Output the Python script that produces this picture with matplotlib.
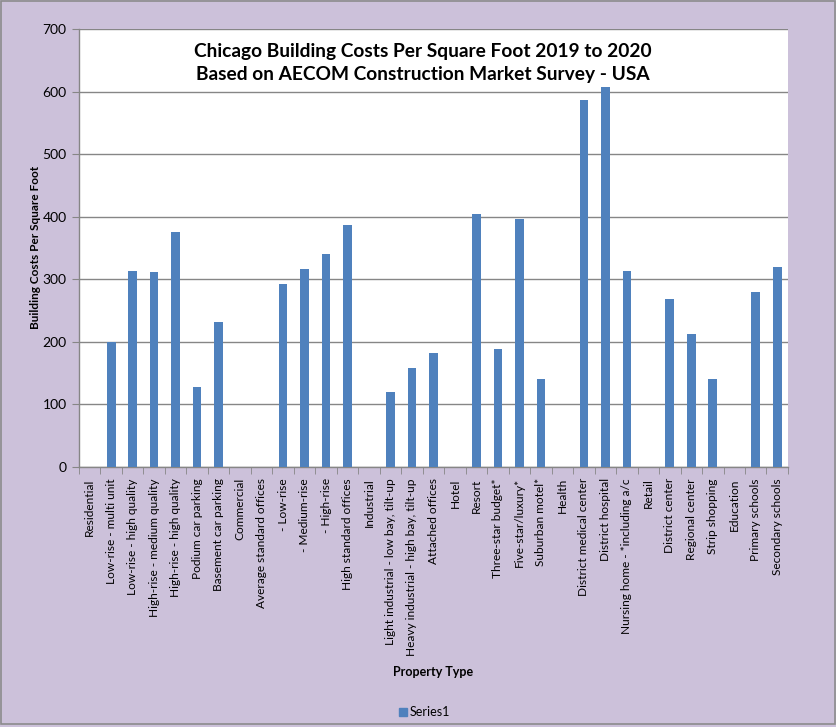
import matplotlib
matplotlib.use("Agg")
import matplotlib.pyplot as plt
from matplotlib.patches import Rectangle, Patch
import numpy as np

categories = [
    "Residential", "Low-rise - multi unit", "Low-rise - high quality",
    "High-rise - medium quality", "High-rise - high quality", "Podium car parking",
    "Basement car parking", "Commercial", "Average standard offices",
    " - Low-rise", " - Medium-rise", " - High-rise", "High standard offices",
    "Industrial", "Light industrial - low bay, tilt-up",
    "Heavy industrial - high bay, tilt-up", "Attached offices", "Hotel", "Resort",
    "Three-star budget*", "Five-star/luxury*", "Suburban motel*", "Health",
    "District medical center", "District hospital", "Nursing home - *including a/c",
    "Retail", "District center", "Regional center", "Strip shopping", "Education",
    "Primary schools", "Secondary schools",
]
values = [
    0, 200, 314, 311, 375, 128, 231, 0, 0, 293, 317, 341, 386, 0, 120, 159, 183,
    0, 405, 189, 397, 141, 0, 587, 608, 314, 0, 269, 213, 140, 0, 280, 320,
]
yticks = [0, 100, 200, 300, 400, 500, 600, 700]
title = "Chicago Building Costs Per Square Foot 2019 to 2020\nBased on AECOM Construction Market Survey - USA"
ylabel = "Building Costs Per Square Foot"
xlabel = "Property Type"
series_name = "Series1"

plt.rcParams['font.family'] = ['Lato', 'DejaVu Sans']
bg = "#CCC1DA"
bar_color = "#4F81BD"
grid_color = "#868686"

fig = plt.figure(figsize=(8.37, 7.27), dpi=100, facecolor=bg)
fig.patches.append(Rectangle((0.0015, 0.004), 0.996, 0.994, transform=fig.transFigure,
                             fill=False, edgecolor="#8c8c8c", lw=1.2))
ax = fig.add_axes([0.0944, 0.3576, 0.847, 0.6025])
ax.set_facecolor("white")

x = np.arange(len(categories))
ax.bar(x, values, width=0.4, color=bar_color, zorder=3)
ax.set_xlim(-0.5, len(categories) - 0.5)
ax.set_ylim(0, 700)
ax.set_yticks(yticks)
ax.set_yticklabels([str(v) for v in yticks], fontsize=10)
ax.yaxis.grid(True, color=grid_color, lw=1, zorder=0)
ax.set_axisbelow(True)

ax.set_xticks(x)
ax.set_xticklabels(categories, rotation=90, fontsize=8.6, ha='center', va='top')
ax.set_xticks(np.arange(-0.5, len(categories), 1), minor=True)
ax.tick_params(axis='x', which='major', length=0, pad=8)
ax.tick_params(axis='x', which='minor', length=5, color=grid_color, direction='out')
ax.tick_params(axis='y', length=5, color=grid_color, direction='out', pad=4)

for s in ['top', 'right']:
    ax.spines[s].set_visible(False)
for s in ['left', 'bottom']:
    ax.spines[s].set_color(grid_color)
    ax.spines[s].set_linewidth(1)

ax.text(0.485, 0.923, title, transform=ax.transAxes, ha='center', va='center',
        fontsize=13.8, fontweight='bold', linespacing=1.4)

fig.text(0.043, 0.659, ylabel, rotation=90, ha='center', va='center',
         fontsize=8.5, fontweight='bold')
fig.text(0.517, 0.0755, xlabel, ha='center', va='center', fontsize=9, fontweight='bold')

leg = fig.legend(handles=[Patch(facecolor=bar_color, edgecolor=bar_color, label=series_name)],
                 loc='center', bbox_to_anchor=(0.507, 0.02), frameon=False, fontsize=9,
                 handlelength=0.6, handleheight=0.6, handletextpad=0.2)

fig.savefig("out.png", dpi=100, facecolor=bg)
